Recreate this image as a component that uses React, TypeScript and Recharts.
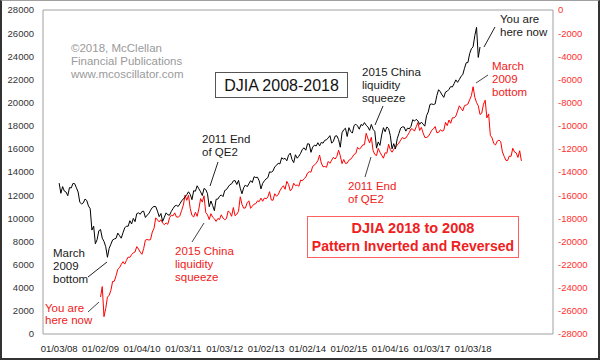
import { LineChart, Line, XAxis, YAxis, ReferenceArea } from "recharts";

// DJIA, sampled twice a month from Jan 2008 to Mar 2018
const djiaValues = [
  // 2008
  13040, 12160, 12740, 12350, 12270, 11950, 12650, 12620, 13010, 12990, 12640, 12270,
  11380, 11240, 11330, 11660, 11540, 11060, 10830, 8980, 9320, 7800, 8150, 8920,
  // 2009
  9030, 8280, 8000, 7550, 6630, 7400, 7760, 8130, 8210, 8270, 8720, 8500,
  8280, 8740, 9170, 9320, 9310, 9790, 9510, 9990, 9710, 10400, 10470, 10350,
  // 2010
  10580, 10610, 10070, 10270, 10400, 10690, 10930, 11020, 11010, 10620, 10140, 10410,
  9730, 10100, 10470, 10300, 10270, 10590, 10830, 11060, 11120, 11020, 11250, 11500,
  // 2011
  11670, 11840, 12040, 12290, 12060, 11610, 12380, 12340, 12810, 12550, 12290, 11960,
  12580, 12480, 12130, 11000, 11490, 11100, 10660, 11640, 11660, 11900, 12020, 11870,
  // 2012
  12400, 12480, 12710, 12900, 12980, 13230, 13260, 12920, 13280, 12600, 12120, 12650,
  12880, 12730, 12980, 13250, 13090, 13590, 13520, 13550, 13230, 12540, 13020, 13240,
  // 2013
  13410, 13510, 14010, 13980, 14090, 14450, 14570, 14760, 14700, 15230, 15120, 15180,
  14970, 15450, 15630, 15080, 14810, 15490, 15190, 15370, 15620, 15960, 16090, 15880,
  // 2014
  16440, 16420, 15700, 16150, 16320, 16250, 16530, 16260, 16560, 16490, 16740, 16780,
  16950, 17140, 16490, 16660, 17100, 17130, 16800, 16140, 17390, 17650, 17780, 17070,
  // 2015
  17830, 17510, 17360, 18020, 18130, 17980, 17700, 18100, 18020, 18270, 18040, 17900,
  17600, 18110, 17690, 17510, 16060, 16600, 16300, 17200, 17830, 17480, 17890, 17750,
  // 2016
  17150, 16000, 16450, 16000, 16870, 17330, 17790, 17900, 17890, 17530, 17790, 17730,
  17950, 18520, 18400, 18550, 18420, 18120, 18310, 18140, 17960, 18870, 19190, 19840,
  // 2017
  19880, 19830, 19890, 20620, 21110, 20930, 20660, 20450, 20910, 20980, 21140, 21380,
  21350, 21640, 21960, 21750, 21990, 22270, 22410, 22960, 23440, 23460, 24230, 24650,
  // 2018
  24820, 25800, 26500, 23900, 24800,
];

// same pattern, inverted and reversed, starting Jan 2009
const invertedValues = [
  -24800, -23900, -26500, -25800, -24820,
  -24650, -24230, -23460, -23440, -22960, -22410, -22270, -21990, -21750, -21960, -21640, -21350,
  -21380, -21140, -20980, -20910, -20450, -20660, -20930, -21110, -20620, -19890, -19830, -19880,
  -19840, -19190, -18870, -17960, -18140, -18310, -18120, -18420, -18550, -18400, -18520, -17950,
  -17730, -17790, -17530, -17890, -17900, -17790, -17330, -16870, -16000, -16450, -16000, -17150,
  -17750, -17890, -17480, -17830, -17200, -16300, -16600, -16060, -17510, -17690, -18110, -17600,
  -17900, -18040, -18270, -18020, -18100, -17700, -17980, -18130, -18020, -17360, -17510, -17830,
  -17070, -17780, -17650, -17390, -16140, -16800, -17130, -17100, -16660, -16490, -17140, -16950,
  -16780, -16740, -16490, -16560, -16260, -16530, -16250, -16320, -16150, -15700, -16420, -16440,
  -15880, -16090, -15960, -15620, -15370, -15190, -15490, -14810, -15080, -15630, -15450, -14970,
  -15180, -15120, -15230, -14700, -14760, -14570, -14450, -14090, -13980, -14010, -13510, -13410,
  -13240, -13020, -12540, -13230, -13550, -13520, -13590, -13090, -13250, -12980, -12730, -12880,
  -12650, -12120, -12600, -13280, -12920, -13260, -13230, -12980, -12900, -12710, -12480, -12400,
  -11870, -12020, -11900, -11660, -11640, -10660, -11100, -11490, -11000, -12130, -12480, -12580,
  -11960, -12290, -12550, -12810, -12340, -12380, -11610, -12060, -12290, -12040, -11840, -11670,
  -11500, -11250, -11020, -11120, -11060, -10830, -10590, -10270, -10300, -10470, -10100, -9730,
  -10410, -10140, -10620, -11010, -11020, -10930, -10690, -10400, -10270, -10070, -10610, -10580,
  -10350, -10470, -10400, -9710, -9990, -9510, -9790, -9310, -9320, -9170, -8740, -8280,
  -8500, -8720, -8270, -8210, -8130, -7760, -7400, -6630, -7550, -8000, -8280, -9030,
  -8920, -8150, -7800, -9320, -8980, -10830, -11060, -11540, -11660, -11330, -11240, -11380,
  -12270, -12640, -12990, -13010, -12620, -12650, -11950, -12270, -12350, -12740, -12160, -13040,
];

const djiaStart = 2008;
const invertedStart = 2009;

const xTicks = [2008, 2009, 2010, 2011, 2012, 2013, 2014, 2015, 2016, 2017, 2018];
const xTickLabels = [
  "01/03/08", "01/02/09", "01/04/10", "01/03/11", "01/03/12", "01/02/13",
  "01/02/14", "01/02/15", "01/04/16", "01/03/17", "01/03/18",
];
const leftTicks = [
  0, 2000, 4000, 6000, 8000, 10000, 12000, 14000, 16000, 18000, 20000, 22000, 24000, 26000, 28000,
];
const rightTicks = [
  -28000, -26000, -24000, -22000, -20000, -18000, -16000, -14000, -12000, -10000, -8000, -6000,
  -4000, -2000, 0,
];

const X_DOMAIN: [number, number] = [2007.61, 2019.93];
const FONT = "'Liberation Sans', Arial, sans-serif";
const RED = "#ff0000";
const RED_TEXT = "#f02020";
const INK = "#1a1a1a";

const djiaData = djiaValues.map((v, i) => ({ t: djiaStart + i / 24, v }));
const invertedData = invertedValues.map((v, i) => ({ t: invertedStart + i / 24, v }));

function Note({ x, y, lines, color }: { x: number; y: number; lines: string[]; color: string }) {
  return (
    <text x={x} y={y} fill={color} fontSize={11.5} fontFamily={FONT}>
      {lines.map((l, i) => (
        <tspan key={i} x={x} dy={i === 0 ? 0 : 12.8}>
          {l}
        </tspan>
      ))}
    </text>
  );
}

export default function App() {
  return (
    <div style={{ position: "relative", width: 600, height: 360, background: "#fff", fontFamily: FONT }}>
      <style>{"body{margin:0}"}</style>
      <LineChart width={600} height={360} data={djiaData} margin={{ top: 10, right: 0, bottom: 0, left: 0 }}>
        <XAxis
          dataKey="t"
          type="number"
          domain={X_DOMAIN}
          ticks={xTicks}
          interval={0}
          tickFormatter={(t: number) => xTickLabels[xTicks.indexOf(t)] ?? ""}
          axisLine={false}
          tickLine={false}
          tickSize={0}
          tickMargin={11}
          height={26}
          tick={{ fontSize: 9.5, fill: "#222" }}
          allowDataOverflow
        />
        <YAxis
          yAxisId="left"
          orientation="left"
          width={43}
          domain={[0, 28000]}
          ticks={leftTicks}
          interval={0}
          axisLine={false}
          tickLine={false}
          tickSize={0}
          tickMargin={9}
          tick={{ fontSize: 9.5, fill: "#333" }}
        />
        <YAxis
          yAxisId="right"
          orientation="right"
          width={47}
          domain={[-28000, 0]}
          ticks={rightTicks}
          interval={0}
          axisLine={false}
          tickLine={false}
          tickSize={0}
          tickMargin={5}
          tick={{ fontSize: 9.5, fill: "#ff3030" }}
        />
        <ReferenceArea
          yAxisId="left"
          x1={X_DOMAIN[0]}
          x2={X_DOMAIN[1]}
          y1={0}
          y2={28000}
          fill="none"
          stroke="#a0a0a0"
          strokeWidth={1}
        />
        <Line
          yAxisId="right"
          data={invertedData}
          dataKey="v"
          type="linear"
          stroke={RED}
          strokeWidth={1}
          dot={false}
          isAnimationActive={false}
        />
        <Line
          yAxisId="left"
          data={djiaData}
          dataKey="v"
          type="linear"
          stroke="#000"
          strokeWidth={1}
          dot={false}
          isAnimationActive={false}
        />
      </LineChart>

      <svg width={600} height={360} style={{ position: "absolute", left: 0, top: 0, pointerEvents: "none" }}>
        {/* watermark */}
        <Note x={71} y={52} color="#9a9a9a" lines={["©2018, McClellan", "Financial Publications", "www.mcoscillator.com"]} />

        {/* title box */}
        <rect x={215.5} y={72.5} width={132} height={25} fill="#fff" stroke="#555" />
        <text x={281.5} y={90.5} textAnchor="middle" fontSize={16} fill="#111" fontFamily={FONT}>
          DJIA 2008-2018
        </text>

        {/* black notes */}
        <Note x={202} y={143} color={INK} lines={["2011 End", "of QE2"]} />
        <line x1={218} y1={162} x2={210} y2={186} stroke="#222" />
        <Note x={362} y={76} color={INK} lines={["2015 China", "liquidity", "squeeze"]} />
        <line x1={383} y1={106} x2={375} y2={125} stroke="#222" />
        <Note x={500} y={23} color={INK} lines={["You are", "here now"]} />
        <line x1={495} y1={27} x2={484} y2={47} stroke="#222" />
        <Note x={53} y={257} color={INK} lines={["March", "2009", "bottom"]} />
        <line x1={88} y1={277} x2={107} y2={262} stroke="#222" />

        {/* red notes */}
        <Note x={492} y={70} color={RED_TEXT} lines={["March", "2009", "bottom"]} />
        <line x1={488} y1={75} x2={476} y2={83} stroke="#444" />
        <Note x={45} y={311.5} color={RED_TEXT} lines={["You are", "here now"]} />
        <line x1={88} y1={312} x2={99} y2={302} stroke="#444" />
        <Note x={175} y={255} color={RED_TEXT} lines={["2015 China", "liquidity", "squeeze"]} />
        <line x1={192} y1={242} x2={204} y2={223} stroke="#444" />
        <Note x={348} y={190} color={RED_TEXT} lines={["2011 End", "of QE2"]} />
        <line x1={365} y1={177} x2={371} y2={157} stroke="#444" />

        {/* red box */}
        <rect x={307.5} y={216.5} width={211} height={41} fill="#fff" stroke="#ff6060" />
        <text x={413} y={232.5} textAnchor="middle" fontSize={14.5} fontWeight="bold" fill={RED_TEXT} fontFamily={FONT}>
          DJIA 2018 to 2008
        </text>
        <text x={413} y={251} textAnchor="middle" fontSize={14} fontWeight="bold" fill={RED_TEXT} fontFamily={FONT}>
          Pattern Inverted and Reversed
        </text>
      </svg>

      {/* outer frame */}
      <div
        style={{
          position: "absolute",
          inset: 0,
          boxSizing: "border-box",
          borderTop: "1px solid #a0a0a0",
          borderLeft: "2px solid #333",
          borderRight: "2px solid #333",
          borderBottom: "2px solid #333",
          pointerEvents: "none",
        }}
      />
    </div>
  );
}
